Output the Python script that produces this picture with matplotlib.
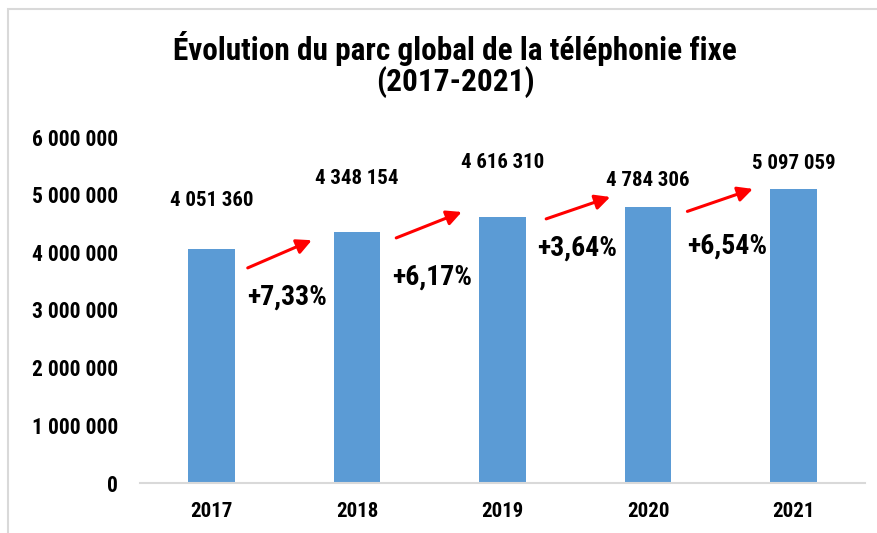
import numpy as np
import matplotlib
matplotlib.use("Agg")
import matplotlib.pyplot as plt
from matplotlib.patches import Rectangle

# ── Data ─────────────────────────────────────────────────────────────────────
years   = ["2017", "2018", "2019", "2020", "2021"]
parc    = [4051360, 4348154, 4616310, 4784306, 5097059]
growth  = ["+7,33%", "+6,17%", "+3,64%", "+6,54%"]

# label / arrow placement (data units, y in millions)
label_dy  = [0.84, 0.94, 0.94, 0.47, 0.45]
arrow_x   = [(0.25, 0.69), (1.27, 1.72), (2.30, 2.74), (3.27, 3.72)]
arrow_y   = [(3.73, 4.21), (4.25, 4.70), (4.58, 4.96), (4.71, 5.10)]
pct_pos   = [(0.52, 3.22), (1.52, 3.57), (2.51, 4.07), (3.54, 4.11)]

FONT = ["Roboto Condensed", "Liberation Sans", "DejaVu Sans"]
plt.rcParams["font.family"] = FONT
BLUE = "#5B9BD5"

def fmt(v):
    return f"{int(v):,}".replace(",", " ")

fig = plt.figure(figsize=(8.78, 5.33), dpi=100)
ax = fig.add_axes([140/878, 1 - 483/533, 725/878, 346/533])

x = np.arange(len(years))
ax.bar(x, np.array(parc) / 1e6, width=0.32, color=BLUE, zorder=2)

for i, v in enumerate(parc):
    ax.text(x[i], v / 1e6 + label_dy[i], fmt(v), ha="center", va="center",
            fontsize=15, fontweight="bold")

for (x0, x1), (y0, y1) in zip(arrow_x, arrow_y):
    ax.annotate("", xy=(x1, y1), xytext=(x0, y0),
                arrowprops=dict(arrowstyle="-|>,head_length=0.9,head_width=0.45",
                                color="#FF0000", lw=2.2, shrinkA=0, shrinkB=0))

for s, (px, py) in zip(growth, pct_pos):
    ax.text(px, py, s, ha="center", va="center", fontsize=20, fontweight="bold")

ax.set_xlim(-0.49, 4.49)
ax.set_ylim(0, 6)
ax.set_xticks(x)
ax.set_xticklabels(years, fontsize=15, fontweight="bold")
ax.set_yticks(np.arange(0, 7))
ax.set_yticklabels([fmt(t * 1e6) for t in range(7)], fontsize=15.5, fontweight="bold")
ax.tick_params(axis="both", length=0)
ax.tick_params(axis="x", pad=14)
ax.tick_params(axis="y", pad=16)
for sp in ["top", "right", "left"]:
    ax.spines[sp].set_visible(False)
ax.spines["bottom"].set_color("#D9D9D9")
ax.spines["bottom"].set_linewidth(1.5)

fig.text(455/878, 1 - 48/533, "Évolution du parc global de la téléphonie fixe",
         ha="center", va="center", fontsize=22.5, fontweight="bold")
fig.text(455/878, 1 - 82/533, "(2017-2021)",
         ha="center", va="center", fontsize=22.5, fontweight="bold")

# chart border (partially cropped)
fig.patches.append(Rectangle((8/878, -0.1), 1.0, 1 - 9/533 + 0.1,
                             transform=fig.transFigure, fill=False,
                             edgecolor="#D9D9D9", lw=1.5))

fig.savefig("out.png", dpi=100)
